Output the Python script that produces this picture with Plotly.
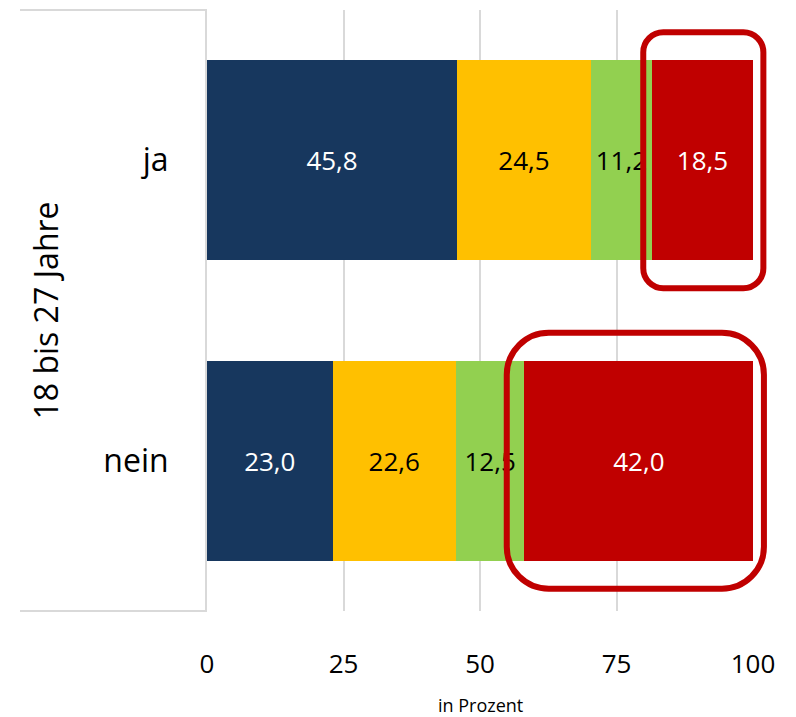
import plotly.graph_objects as go

categories = ["ja", "nein"]
series_names = ["A", "B", "C", "D"]
values = {
    "A": [45.8, 23.0],
    "B": [24.5, 22.6],
    "C": [11.2, 12.5],
    "D": [18.5, 42.0],
}
colors = ["#17375e", "#ffc000", "#92d050", "#c00000"]
text_colors = ["white", "black", "black", "white"]
tick_values = [0, 25, 50, 75, 100]
group_label = "18 bis 27 Jahre"

FONT = "Open Sans"
W, H = 796, 717
L, R, T, B = 207, 43, 10, 106
plot_w = W - L - R
plot_h = H - T - B
X_MAX = 100

fig = go.Figure()
for name, col, tcol in zip(series_names, colors, text_colors):
    vals = values[name]
    fig.add_trace(go.Bar(
        y=categories,
        x=vals,
        orientation="h",
        name=name,
        marker=dict(color=col, line=dict(width=0)),
        text=[f"{v:.1f}".replace(".", ",") for v in vals],
        textposition="inside",
        insidetextanchor="middle",
        constraintext="none",
        textangle=0,
        textfont=dict(family=FONT, size=26, color=tcol),
    ))


# rounded highlight boxes around the last segment of each bar (paper coords)
def rounded_path(x0, x1, y0, y1, r_px):
    rx = r_px / plot_w
    ry = r_px / plot_h
    k = 0.5523
    return (
        f"M {x0 + rx},{y1} L {x1 - rx},{y1} "
        f"C {x1 - rx + k * rx},{y1} {x1},{y1 - ry + k * ry} {x1},{y1 - ry} "
        f"L {x1},{y0 + ry} "
        f"C {x1},{y0 + ry - k * ry} {x1 - rx + k * rx},{y0} {x1 - rx},{y0} "
        f"L {x0 + rx},{y0} "
        f"C {x0 + rx - k * rx},{y0} {x0},{y0 + ry - k * ry} {x0},{y0 + ry} "
        f"L {x0},{y1 - ry} "
        f"C {x0},{y1 - ry + k * ry} {x0 + rx - k * rx},{y1} {x0 + rx},{y1} Z"
    )


shapes = []
box_pad_left = [1.6, 3.2]   # in data units
box_radius = [20, 42]       # px
half_h = 128 / plot_h
for i, cat in enumerate(categories):
    start = sum(values[n][i] for n in series_names[:-1])
    total = start + values[series_names[-1]][i]
    yc = 0.75 if i == 0 else 0.25
    shapes.append(dict(
        type="path", xref="paper", yref="paper",
        path=rounded_path((start - box_pad_left[i]) / X_MAX,
                          (total + 1.9) / X_MAX,
                          yc - half_h, yc + half_h, box_radius[i]),
        line=dict(color="#c00000", width=6),
        fillcolor="rgba(0,0,0,0)",
        layer="above",
    ))

# left label panel frame
lx = (20 - L) / plot_w
shapes += [
    dict(type="line", xref="paper", yref="paper", x0=lx, x1=0, y0=1, y1=1,
         line=dict(color="#d9d9d9", width=2)),
    dict(type="line", xref="paper", yref="paper", x0=lx, x1=0, y0=0, y1=0,
         line=dict(color="#d9d9d9", width=2)),
]

fig.update_layout(
    width=W, height=H,
    margin=dict(l=L, r=R, t=T, b=B),
    barmode="stack",
    bargap=1 / 3,
    showlegend=False,
    plot_bgcolor="white",
    paper_bgcolor="white",
    font=dict(family=FONT, color="black"),
    shapes=shapes,
    xaxis=dict(
        range=[0, X_MAX],
        tickvals=tick_values,
        showgrid=True, gridcolor="#d9d9d9", gridwidth=2,
        zeroline=False,
        ticks="outside", ticklen=0,
        ticklabelstandoff=30,
        tickfont=dict(family=FONT, size=26, color="black"),
        showline=False,
    ),
    yaxis=dict(
        categoryorder="array",
        categoryarray=categories[::-1],
        showline=True, linecolor="#d9d9d9", linewidth=2,
        showgrid=False,
        ticks="", ticklabelstandoff=30,
        tickfont=dict(family=FONT, size=32, color="black"),
    ),
    annotations=[
        dict(text="in Prozent", xref="x", yref="paper", x=50,
             y=-(705 - (T + plot_h)) / plot_h, yanchor="middle",
             showarrow=False,
             font=dict(family=FONT, size=18, color="black")),
        dict(text=group_label, xref="paper", yref="paper",
             x=(45 - L) / plot_w, y=0.5, xanchor="center", yanchor="middle",
             textangle=-90, showarrow=False,
             font=dict(family=FONT, size=32, color="black")),
    ],
)

fig.write_html("out.html", config={"displayModeBar": False},
               post_script="document.body.style.margin='0';")
